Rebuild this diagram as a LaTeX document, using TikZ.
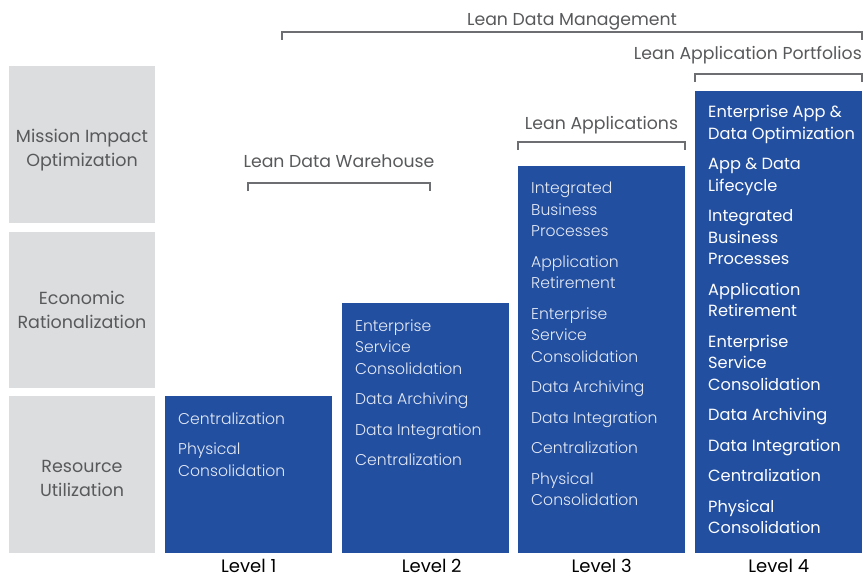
\documentclass[tikz,border=0pt]{standalone}
\usepackage{fontspec}
\setmainfont{Poppins}
\newfontfamily\thinfont{Poppins}[UprightFont=* Light]
\usetikzlibrary{positioning}

\definecolor{rowgray}{HTML}{DCDDDF}
\definecolor{barblue}{HTML}{234FA1}
\definecolor{linegray}{HTML}{6D6E71}
\definecolor{labelgray}{HTML}{58595B}

\tikzset{
  rowbox/.style={fill=rowgray, minimum width=146pt, inner sep=0},
  rowlabel/.style={text=labelgray, align=center, inner sep=0,
    font=\fontsize{17.5}{24}\selectfont},
  levelbar/.style={fill=barblue, minimum width=167pt, anchor=south west, inner sep=0},
  bartext/.style={anchor=north west, inner sep=0, align=left, text=white!88!barblue,
    font=\thinfont\fontsize{15.6}{21.5}\selectfont},
  bartextbold/.style={bartext, text=white, font=\fontsize{16.2}{21.5}\selectfont},
  bracket/.style={draw=linegray, line width=1.2pt},
  bracketlabel/.style={text=labelgray, font=\fontsize{17.3}{20}\selectfont, inner sep=0},
  levellabel/.style={font=\fontsize{18}{20}\selectfont, inner sep=0},
}

\begin{document}
\begin{tikzpicture}[x=1pt, y=-1pt]
    \useasboundingbox (0,0) rectangle (864,578);

    % rows
    \node[rowbox, minimum height=157pt] (mission) at (82,144.5) {};
    \node[rowbox, minimum height=156pt] (economic) at (82,310) {};
    \node[rowbox, minimum height=157pt] (resource) at (82,474.5) {};
    \node[rowlabel] (mission-txt) at (82,150) {Mission Impact\\Optimization};
    \node[rowlabel] (economic-txt) at (82,310) {Economic\\Rationalization};
    \node[rowlabel] (resource-txt) at (82,478) {Resource\\Utilization};

    % levels
    \node[levelbar, minimum height=157pt] (lvl1) at (165,553) {};
    \node[levelbar, minimum height=250pt] (lvl2) at (342,553) {};
    \node[levelbar, minimum height=387pt] (lvl3) at (518,553) {};
    \node[levelbar, minimum height=462pt] (lvl4) at (695,553) {};

    \node[bartext] (txt1) at ([xshift=13pt,yshift=-16.5pt]lvl1.north west)
        {Centralization\\[9pt]Physical\\Consolidation};
    \node[bartext] (txt2) at ([xshift=13pt,yshift=-16.5pt]lvl2.north west)
        {Enterprise\\Service\\Consolidation\\[9pt]Data Archiving\\[9pt]Data Integration\\[9pt]Centralization};
    \node[bartext] (txt3) at ([xshift=13pt,yshift=-16.5pt]lvl3.north west)
        {Integrated\\Business\\Processes\\[9pt]Application\\Retirement\\[9pt]Enterprise\\Service\\Consolidation\\[9pt]Data Archiving\\[9pt]Data Integration\\[9pt]Centralization\\[9pt]Physical\\Consolidation};
    \node[bartextbold] (txt4) at ([xshift=13pt,yshift=-14.5pt]lvl4.north west)
        {Enterprise App \&\\Data Optimization\\[9pt]App \& Data\\Lifecycle\\[9pt]Integrated\\Business\\Processes\\[9pt]Application\\Retirement\\[9pt]Enterprise\\Service\\Consolidation\\[9pt]Data Archiving\\[9pt]Data Integration\\[9pt]Centralization\\[9pt]Physical\\Consolidation};

    \node[levellabel, below=6pt of lvl1.south] (lab1) {Level 1};
    \node[levellabel, below=6pt of lvl2.south, xshift=6pt] (lab2) {Level 2};
    \node[levellabel, below=6pt of lvl3.south] (lab3) {Level 3};
    \node[levellabel, below=6pt of lvl4.south] (lab4) {Level 4};

    % brackets
    \coordinate (ldm-a) at (282,32);
    \coordinate (ldm-b) at (862,32);
    \draw[bracket] ([yshift=-8pt]ldm-a) -- (ldm-a) -- (ldm-b) -- ([yshift=-8pt]ldm-b);
    \node[bracketlabel] (ldm) at (572,22) {Lean Data Management};

    \coordinate (lap-a) at (695,74);
    \coordinate (lap-b) at (862,74);
    \draw[bracket] ([yshift=-8pt]lap-a) -- (lap-a) -- (lap-b) -- ([yshift=-8pt]lap-b);
    \node[bracketlabel, anchor=east] (lap) at (862,55) {Lean Application Portfolios};

    \coordinate (la-a) at (518,142);
    \coordinate (la-b) at (685,142);
    \draw[bracket] ([yshift=-8pt]la-a) -- (la-a) -- (la-b) -- ([yshift=-8pt]la-b);
    \node[bracketlabel] (la) at (601.5,125) {Lean Applications};

    \coordinate (ldw-a) at (248,183);
    \coordinate (ldw-b) at (430,183);
    \draw[bracket] ([yshift=-8pt]ldw-a) -- (ldw-a) -- (ldw-b) -- ([yshift=-8pt]ldw-b);
    \node[bracketlabel] (ldw) at (339,161) {Lean Data Warehouse};
\end{tikzpicture}
\end{document}
